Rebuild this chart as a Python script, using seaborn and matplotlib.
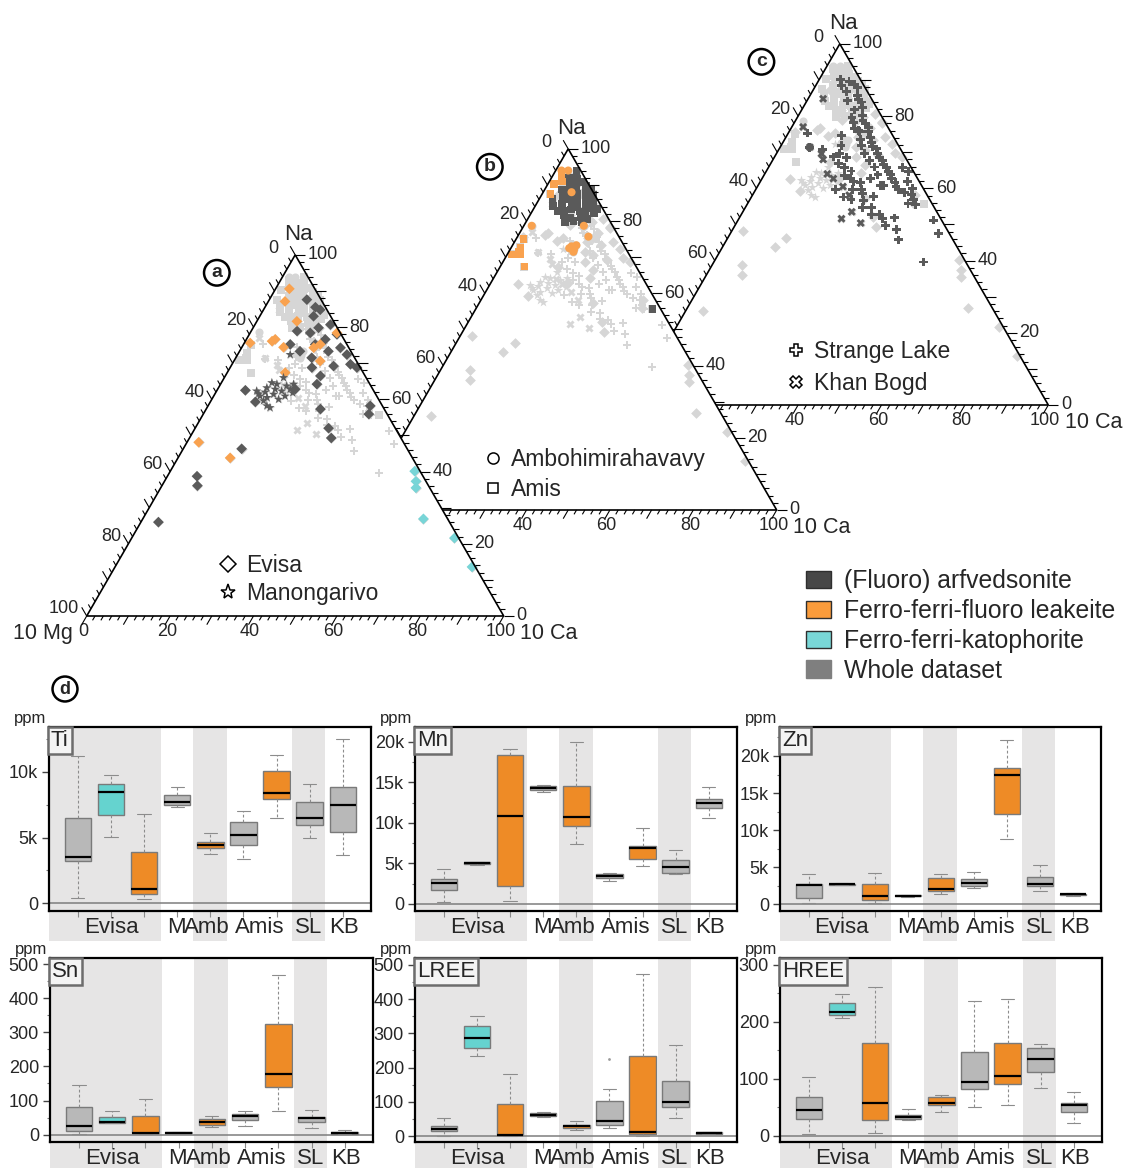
import numpy as np
import pandas as pd
import matplotlib
matplotlib.use("Agg")
import matplotlib.pyplot as plt
import matplotlib.transforms as mtransforms
from matplotlib.collections import LineCollection
from matplotlib.lines import Line2D
from matplotlib.patches import Patch, Polygon, Rectangle
import seaborn as sns

sns.set_style("ticks")
plt.rcParams["font.family"] = ["Liberation Sans", "DejaVu Sans"]

# ---------------------------------------------------------------------------
# Ternary compositions, (10Ca, Na) in normalised % (10Mg is the remainder)
# ---------------------------------------------------------------------------
evisa_arf = [(9.0, 87.6), (12.1, 85.5), (13.6, 84.8), (12.9, 83.0), (18.1, 80.7),
             (15.7, 79.8), (14.4, 78.4), (11.0, 78.9), (18.9, 76.6), (17.2, 75.2),
             (11.2, 75.2), (14.5, 73.3), (21.3, 73.3), (23.7, 74.3), (18.2, 71.5),
             (24.6, 69.2), (28.4, 69.7), (30.4, 68.8), (19.6, 68.8), (22.8, 66.5),
             (23.1, 64.2), (18.6, 62.8), (6.8, 62.5), (10.8, 59.3), (27.4, 57.3),
             (38.9, 58.2), (39.7, 55.9), (32.0, 52.0), (34.0, 49.3), (14.0, 46.3),
             (7.1, 38.7), (8.5, 36.1), (4.2, 26.0), (21.0, 78.0), (26.2, 72.4)]
evisa_leak = [(3.3, 90.6), (4.0, 87.1), (9.6, 81.6), (6.9, 76.6), (6.4, 76.1),
              (1.4, 75.6), (10.0, 74.4), (17.3, 74.3), (18.4, 75.2), (20.7, 70.6),
              (13.9, 67.4), (20.8, 78.4), (2.8, 48.1), (12.5, 43.8)]
evisa_kat = [(58.6, 40.1), (60.3, 37.3), (61.2, 35.5), (67.3, 26.9), (77.4, 21.6),
             (85.6, 13.6)]
manongarivo_arf = [(11.6, 63.2), (14.1, 61.4), (12.6, 59.6), (15.6, 62.3), (17.4, 62.8),
                   (15.1, 57.7), (11.1, 60.9), (13.5, 64.2), (17.1, 60.9), (17.5, 64.2),
                   (12.1, 64.6), (14.1, 58.2), (16.0, 60.0), (9.6, 62.3), (16.1, 63.7),
                   (11.8, 62.0), (13.8, 62.8), (12.6, 72.4), (14.2, 66.0), (10.5, 61.5),
                   (18.5, 61.8), (13.0, 60.5)]
ambohimirahavavy_leak = [(1.4, 94.0), (3.0, 94.0), (1.9, 78.7), (14.4, 78.7), (17.0, 75.7),
                         (14.3, 73.0), (15.3, 72.2), (15.3, 73.3), (15.5, 71.5), (6.8, 88.0),
                         (14.0, 72.5)]
amis_arf = [(5.1, 93.8), (4.2, 92.1), (6.3, 91.7), (8.2, 90.9), (5.3, 90.2), (7.1, 89.6),
            (9.4, 89.8), (11.1, 88.6), (4.1, 88.7), (6.4, 88.1), (8.3, 87.6), (10.2, 87.9),
            (12.3, 87.4), (5.2, 86.8), (7.4, 86.2), (9.2, 85.7), (11.3, 85.9), (13.1, 85.6),
            (6.2, 84.7), (8.4, 85.1), (10.3, 83.8), (12.2, 84.1), (14.1, 83.6), (7.3, 82.8),
            (9.1, 83.2), (11.4, 82.7), (13.2, 81.9), (15.1, 82.2), (8.2, 81.7), (10.1, 80.8),
            (12.4, 81.2), (14.3, 80.6), (9.3, 79.8), (11.2, 80.1), (13.4, 79.7), (42.4, 55.6),
            (3.2, 86.1), (4.3, 84.2), (6.1, 82.8), (15.2, 83.4)]
amis_leak = [(1.8, 75.0), (2.2, 72.7), (3.1, 70.8), (1.1, 70.8), (5.8, 67.4),
             (2.5, 71.5), (1.9, 93.0), (1.5, 90.3), (3.0, 91.0), (2.0, 87.5)]
strange_lake_arf = [(5.2, 90.1), (7.4, 89.6), (9.1, 88.7), (10.3, 87.9), (8.2, 86.8),
                    (11.4, 85.7), (6.3, 88.4), (12.1, 84.6), (13.3, 83.9), (9.8, 84.2),
                    (12.6, 81.7), (14.2, 82.3), (13.1, 79.6), (15.4, 80.2), (16.2, 78.7),
                    (17.3, 77.9), (15.2, 76.6), (18.4, 76.8), (19.1, 75.7), (16.9, 75.8),
                    (14.1, 78.2), (16.5, 76.1), (18.2, 73.6), (20.4, 74.1), (21.2, 72.7),
                    (19.3, 71.8), (22.1, 71.6), (23.4, 70.9), (24.3, 69.6), (21.1, 69.7),
                    (25.2, 68.6), (26.4, 67.7), (23.2, 67.8), (27.1, 66.6), (28.3, 65.8),
                    (25.4, 65.9), (29.4, 64.6), (30.2, 63.8), (27.3, 63.7), (31.1, 62.6),
                    (32.4, 61.7), (33.2, 60.6), (30.1, 60.8), (34.3, 59.7), (36.2, 58.8),
                    (38.1, 58.2), (37.4, 59.9), (39.2, 56.8), (40.3, 55.6), (38.4, 55.9),
                    (13.2, 74.6), (14.4, 71.8), (15.1, 69.7), (17.3, 68.6), (18.2, 65.7),
                    (20.3, 64.8), (19.4, 63.6), (21.2, 62.7), (22.4, 61.8), (24.1, 61.6),
                    (23.2, 59.7), (25.3, 59.8), (26.2, 58.6), (22.1, 57.6), (24.3, 56.8),
                    (27.4, 56.7), (29.2, 57.8), (28.1, 54.7), (30.3, 54.6), (31.2, 52.8),
                    (33.1, 52.7), (34.4, 51.6), (36.1, 49.7), (37.2, 51.8), (39.3, 48.6),
                    (41.2, 45.7), (46.8, 51.2), (49.9, 47.5), (50.2, 39.6), (7.1, 71.2),
                    (10.4, 70.8), (14.1, 68.7), (16.2, 66.8), (32.2, 65.7), (35.3, 61.8),
                    (34.1, 64.6), (29.3, 60.8), (26.1, 62.7), (19.2, 59.6), (4.6, 75.3)]
khan_bogd_arf = [(3.6, 84.8), (2.7, 77.0), (10.8, 69.6), (17.1, 62.7), (24.6, 51.6),
                 (26.1, 53.5), (29.8, 50.4), (23.2, 58.1), (7.1, 71.4), (12.0, 68.0),
                 (20.5, 60.5), (15.0, 64.0)]

tick_values = [0, 20, 40, 60, 80, 100]

# ---------------------------------------------------------------------------
# Box-plot summaries: [min, Q1, median, Q3, max] per slot
# ---------------------------------------------------------------------------
box_slots = ["Evisa", "Evisa", "Evisa", "Manongarivo", "Ambohimirahavavy",
             "Amis", "Amis", "Strange Lake", "Khan Bogd"]
box_minerals = ["arfvedsonite", "katophorite", "leakeite", "arfvedsonite", "leakeite",
                "arfvedsonite", "leakeite", "arfvedsonite", "arfvedsonite"]
group_labels = ["Evisa", "M", "Amb", "Amis", "SL", "KB"]
group_centres = [1, 2.97, 3.9, 5.5, 6.98, 8.05]

ti_stats = [[381, 3249, 3553, 6497, 11168], [5025, 6726, 8452, 9086, 9772],
            [305, 711, 1066, 3934, 6827], [7310, 7462, 7690, 8249, 8807],
            [3756, 4239, 4467, 4695, 5330], [3350, 4467, 5228, 6168, 6980],
            [6497, 7919, 8401, 10025, 11244], [5000, 5939, 6523, 7665, 9086],
            [3655, 5406, 7462, 8832, 12487]]
mn_stats = [[206, 1691, 2639, 3052, 4330], [4784, 4866, 4990, 5113, 5196],
            [330, 2186, 10887, 18392, 19134], [13773, 14103, 14309, 14598, 14639],
            [7381, 9567, 10680, 14515, 20000], [2845, 3175, 3505, 3670, 3876],
            [4742, 5567, 6928, 7175, 9361], [3670, 3876, 4536, 5361, 6680],
            [10557, 11835, 12454, 12990, 14433]]
zn_stats = [[135, 809, 2562, 2787, 4045], [2600, 2650, 2740, 2790, 2830],
            [180, 584, 1124, 2697, 4225], [950, 1120, 1170, 1230, 1260],
            [1348, 1798, 2022, 3596, 4135], [2157, 2472, 2921, 3371, 4315],
            [8764, 12225, 17483, 18382, 22112], [1798, 2472, 2787, 3730, 5258],
            [1169, 1258, 1348, 1438, 1528]]
sn_stats = [[2, 11, 25, 81, 144], [33, 35, 38, 51, 68], [2, 4, 6, 54, 105],
            [4, 5, 6, 7, 8], [23, 27, 36, 46, 54], [26, 42, 55, 60, 68],
            [70, 141, 177, 323, 467], [18, 36, 48, 51, 72], [2, 3, 6, 8, 15]]
lree_stats = [[2, 15, 22, 29, 52], [233, 258, 285, 320, 351], [2, 3, 4, 94, 181],
              [57, 59, 62, 69, 71], [18, 24, 29, 34, 44], [25, 34, 45, 103, 138],
              [1, 6, 13, 235, 474], [52, 86, 101, 160, 267], [7, 8, 10, 11, 13]]
lree_outlier_slot = [5]
lree_outlier_value = [226]
hree_stats = [[3, 29, 45, 68, 103], [207, 212, 217, 232, 248], [4, 27, 58, 162, 261],
              [27, 29, 32, 37, 47], [41, 53, 57, 68, 72], [51, 82, 94, 147, 237],
              [53, 90, 105, 162, 240], [83, 112, 134, 153, 160], [23, 42, 54, 58, 76]]

# ---------------------------------------------------------------------------
FW, FH = 1124, 1168
fig = plt.figure(figsize=(FW / 100, FH / 100), dpi=100)

H3 = np.sqrt(3) / 2
LIGHT = "#d6d6d6"
POINT_PAL = {"arfvedsonite": "#5a5a5a", "leakeite": "#f9a24f", "katophorite": "#78d5d7"}
MARK = {"Evisa": "D", "Manongarivo": "*", "Ambohimirahavavy": "o", "Amis": "s",
        "Strange Lake": "P", "Khan Bogd": "X"}
SIZE = {"Evisa": 30, "Manongarivo": 50, "Ambohimirahavavy": 34, "Amis": 30,
        "Strange Lake": 40, "Khan Bogd": 34}

rows = []
for loc, mineral, pts in [("Evisa", "arfvedsonite", evisa_arf),
                          ("Evisa", "leakeite", evisa_leak),
                          ("Evisa", "katophorite", evisa_kat),
                          ("Manongarivo", "arfvedsonite", manongarivo_arf),
                          ("Ambohimirahavavy", "leakeite", ambohimirahavavy_leak),
                          ("Amis", "arfvedsonite", amis_arf),
                          ("Amis", "leakeite", amis_leak),
                          ("Strange Lake", "arfvedsonite", strange_lake_arf),
                          ("Khan Bogd", "arfvedsonite", khan_bogd_arf)]:
    for ca, na in pts:
        rows.append((loc, mineral, ca, na))
tern = pd.DataFrame(rows, columns=["locality", "mineral", "ca", "na"])
tern["x"] = tern["ca"] + tern["na"] / 2
tern["y"] = tern["na"] * H3

SIDE = 417.0
K = SIDE / 100.0


def ternary_axes(left_px, base_px):
    x0, x1, y0, y1 = -25, 125, -15, 100
    L = left_px + x0 * K
    B = base_px - y0 * K
    ax = fig.add_axes([L / FW, 1 - B / FH, (x1 - x0) * K / FW, (y1 - y0) * K / FH])
    ax.set_xlim(x0, x1)
    ax.set_ylim(y0, y1)
    ax.axis("off")
    return ax


def draw_frame(ax):
    tri = np.array([[0, 0], [100, 0], [50, 100 * H3]])
    ax.add_patch(Polygon(tri, closed=True, fc="white", ec="none", zorder=0))
    ax.add_patch(Polygon(tri, closed=True, fc="none", ec="black", lw=1.2, zorder=5))
    segs = []
    dl = np.array([-0.5, H3])
    dr = np.array([1.0, 0.0])
    db = np.array([-0.5, -H3])
    for v in range(0, 101, 2):
        ln = 2.4 if v % 10 == 0 else 1.2
        p = np.array([(100 - v) / 2, (100 - v) * H3])          # left edge (10Mg)
        segs.append([p, p + dl * ln])
        p = np.array([100 - v + v / 2, v * H3])                # right edge (Na)
        segs.append([p, p + dr * ln])
        p = np.array([v, 0.0])                                 # bottom edge (10Ca)
        segs.append([p, p + db * ln])
    ax.add_collection(LineCollection(segs, colors="black", linewidths=0.8, zorder=5))
    fs = 13
    for v in tick_values:
        p = np.array([(100 - v) / 2, (100 - v) * H3])
        off = (-4.0, 1.6) if v == 0 else (-1.8, 1.7)
        ax.text(p[0] + off[0], p[1] + off[1], str(v), ha="right", va="center", fontsize=fs)
        p = np.array([100 - v / 2, v * H3])
        ax.text(p[0] + 3.0, p[1], str(v), ha="left", va="center", fontsize=fs)
        ax.text(v - 0.8, -3.8, str(v), ha="center", va="center", fontsize=fs)
    ax.text(50.8, 100 * H3 + 4.9, "Na", ha="center", va="center", fontsize=16)
    ax.text(-3.3, -4.1, "10 Mg", ha="right", va="center", fontsize=15.5)
    ax.text(104.0, -4.1, "10 Ca", ha="left", va="center", fontsize=15.5)


panels = [
    dict(left=631.3, base=405, letter="c", show=["Strange Lake", "Khan Bogd"],
         legend_at=(36.7, 9.0), spacing=0.36),
    dict(left=359.7, base=510, letter="b", show=["Amis", "Ambohimirahavavy"],
         legend_at=(29.2, 8.5), spacing=0.28),
    dict(left=86.7, base=616, letter="a", show=["Evisa", "Manongarivo"],
         legend_at=(31.1, 8.75), spacing=0.2),
]
legend_ms = {"D": 8, "*": 11, "o": 8, "s": 7, "P": 9, "X": 9}

for spec in panels:
    ax = ternary_axes(spec["left"], spec["base"])
    draw_frame(ax)
    for loc, sub in tern.groupby("locality"):
        sns.scatterplot(data=sub, x="x", y="y", marker=MARK[loc], s=SIZE[loc],
                        color=LIGHT, linewidth=0, legend=False, ax=ax, zorder=1)
    for loc in spec["show"]:
        sub = tern[tern["locality"] == loc]
        sns.scatterplot(data=sub, x="x", y="y", hue="mineral", palette=POINT_PAL,
                        marker=MARK[loc], s=SIZE[loc], linewidth=0, legend=False,
                        ax=ax, zorder=2)
    locs = [l for l in ["Evisa", "Manongarivo", "Ambohimirahavavy", "Amis",
                        "Strange Lake", "Khan Bogd"] if l in spec["show"]]
    handles = [Line2D([0], [0], marker=MARK[l], ls="none", mfc="white", mec="black",
                      mew=1.1, ms=legend_ms[MARK[l]], label=l) for l in locs]
    ax.legend(handles=handles, loc="center left", bbox_to_anchor=spec["legend_at"],
              bbox_transform=ax.transData, frameon=False, fontsize=16.5,
              handlelength=1.0, handletextpad=0.3, labelspacing=spec["spacing"],
              borderpad=0, borderaxespad=0)
    ax.text(31.2, 82.3, spec["letter"], ha="center", va="center", fontsize=14,
            fontweight="bold",
            bbox=dict(boxstyle="circle,pad=0.22", fc="white", ec="black", lw=1.8))
    ax.set_xlim(-25, 125)
    ax.set_ylim(-15, 100)

# mineral key
key_handles = [Patch(facecolor="#474747", edgecolor="#2e2e2e", lw=1, label="(Fluoro) arfvedsonite"),
               Patch(facecolor="#f99b3b", edgecolor="#2e2e2e", lw=1, label="Ferro-ferri-fluoro leakeite"),
               Patch(facecolor="#79d7d7", edgecolor="#2e2e2e", lw=1, label="Ferro-ferri-katophorite"),
               Patch(facecolor="#7f7f7f", edgecolor="#7f7f7f", lw=1, label="Whole dataset")]
fig.legend(handles=key_handles, loc="upper left", bbox_to_anchor=(806 / FW, 1 - 569 / FH),
           frameon=False, fontsize=17.8, handlelength=1.0, handleheight=0.7,
           handletextpad=0.52, labelspacing=0.24, borderpad=0, borderaxespad=0)

fig.text(65 / FW, 1 - 689 / FH, "d", ha="center", va="center", fontsize=13,
         fontweight="bold",
         bbox=dict(boxstyle="circle,pad=0.22", fc="white", ec="black", lw=1.8))

# ---------------------------------------------------------------------------
BOX_PAL = {"arfvedsonite": "#b8b8b8", "katophorite": "#65d3cf", "leakeite": "#ee8b26"}
SHADE = "#e6e5e5"


def box_panel(rect, stats, ylim, major, labels, minor, name,
              out_slot=None, out_val=None):
    l, t, w, h = rect
    ax = fig.add_axes([l / FW, 1 - (t + h) / FH, w / FW, h / FH])
    recs = [(str(i), box_minerals[i], v) for i in range(9) for v in stats[i]]
    df = pd.DataFrame(recs, columns=["slot", "mineral", "ppm"])
    sns.boxplot(data=df, x="slot", y="ppm", hue="mineral",
                order=[str(i) for i in range(9)], palette=BOX_PAL, dodge=False,
                whis=(0, 100), width=0.8, saturation=1, linewidth=1.0,
                linecolor="#7a7a7a", legend=False, ax=ax,
                medianprops=dict(color="black", linewidth=1.6),
                whiskerprops=dict(color="#8c8c8c", linewidth=0.8, linestyle=(0, (2.5, 2))),
                capprops=dict(color="#8c8c8c", linewidth=0.8))
    if out_slot is not None:
        sns.scatterplot(x=out_slot, y=out_val, color="#9a9a9a", s=4, linewidth=0,
                        legend=False, ax=ax)
    tr = mtransforms.blended_transform_factory(ax.transData, ax.transAxes)
    for x0, x1 in [(-0.87, 2.5), (3.47, 4.5), (6.47, 7.47)]:
        ax.add_patch(Rectangle((x0, -0.165), x1 - x0, 1.165, transform=tr, fc=SHADE,
                               ec="none", clip_on=False, zorder=0.1))
    ax.axhline(0, color="#7d7d7d", lw=1.1, zorder=0.8)
    ax.set_xlim(-0.87, 8.85)
    ax.set_ylim(*ylim)
    ax.set_xticks(range(9))
    ax.set_xticklabels([])
    ax.tick_params(axis="x", length=4, color="#8a8a8a", width=0.8, direction="out")
    ax.set_yticks(major)
    ax.set_yticklabels(labels, fontsize=13)
    ax.set_yticks(minor, minor=True)
    ax.tick_params(axis="y", which="major", length=5, width=1, color="#444444", pad=3)
    ax.tick_params(axis="y", which="minor", length=2.5, width=0.8, color="#777777")
    ax.set_xlabel("")
    ax.set_ylabel("")
    for s in ax.spines.values():
        s.set_visible(True)
        s.set_linewidth(1.6)
        s.set_color("black")
    for lab, xc in zip(group_labels, group_centres):
        ax.text(xc, -0.092, lab, transform=tr, ha="center", va="center", fontsize=16)
    ax.text(-0.058, 1.005, "ppm", transform=ax.transAxes, ha="center", va="bottom",
            fontsize=12)
    ax.text(0.006, 0.985, name, transform=ax.transAxes, ha="left", va="top", fontsize=16,
            zorder=6, bbox=dict(boxstyle="square,pad=0.14", fc="#f4f4f4", ec="#6d6d6d", lw=1.8))
    return ax


k5 = [0, 5000, 10000, 15000, 20000]
k5l = ["0", "5k", "10k", "15k", "20k"]
box_panel((49, 727, 322, 184), ti_stats, (-580, 13400), [0, 5000, 10000],
          ["0", "5k", "10k"], [2500, 7500, 12500], "Ti")
box_panel((415, 727, 322, 184), mn_stats, (-866, 21814), k5, k5l,
          [2500, 7500, 12500, 17500], "Mn")
box_panel((780, 727, 321, 184), zn_stats, (-899, 23910), k5, k5l,
          [2500, 7500, 12500, 17500, 22500], "Zn")
h5 = [0, 100, 200, 300, 400, 500]
h5l = [str(v) for v in h5]
box_panel((50, 958, 323, 184), sn_stats, (-21.6, 517.6), h5, h5l,
          [50, 150, 250, 350, 450], "Sn")
box_panel((415, 958, 322, 184), lree_stats, (-16.7, 519.6), h5, h5l,
          [50, 150, 250, 350, 450], "LREE", lree_outlier_slot, lree_outlier_value)
box_panel((780, 958, 322, 184), hree_stats, (-11.2, 311.8), [0, 100, 200, 300],
          ["0", "100", "200", "300"], [50, 150, 250], "HREE")

fig.savefig("out.png", dpi=100)
